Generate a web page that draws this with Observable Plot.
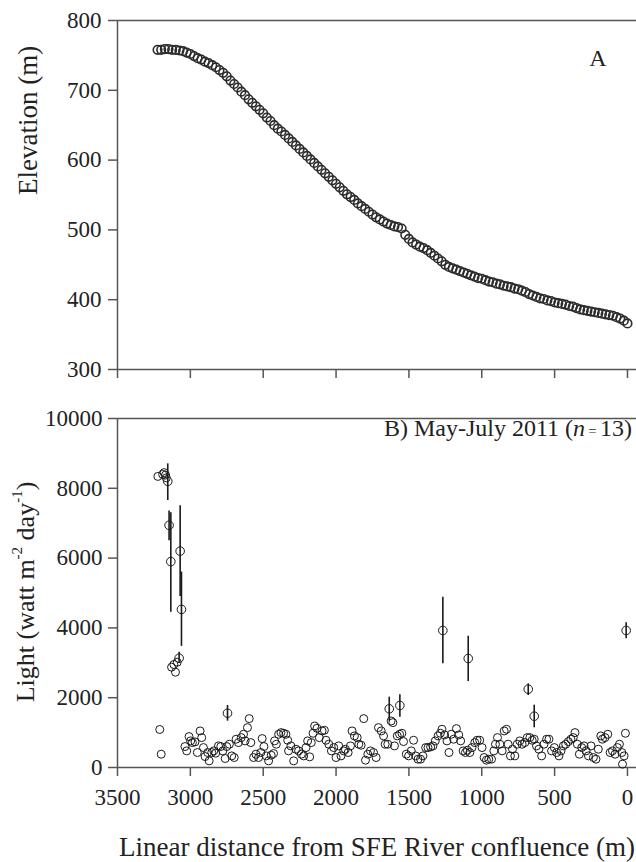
<!DOCTYPE html>
<html><head><meta charset="utf-8">
<script src="https://cdn.jsdelivr.net/npm/d3@7"></script>
<script src="https://cdn.jsdelivr.net/npm/@observablehq/plot@0.6"></script>
<style>
body{margin:0;background:#fff;}
#chart{width:636px;}
svg{display:block;}
</style></head><body><div id="chart"></div>
<script>
// ---- Panel A: elevation along the stream ----
const distA = [3225,3200,3175,3150,3125,3100,3075,3050,3025,3000,
2975,2950,2925,2900,2875,2850,2825,2800,2775,2750,
2725,2700,2675,2650,2625,2600,2575,2550,2525,2500,
2475,2450,2425,2400,2375,2350,2325,2300,2275,2250,
2225,2200,2175,2150,2125,2100,2075,2050,2025,2000,
1975,1950,1925,1900,1875,1850,1825,1800,1775,1750,
1725,1700,1675,1650,1625,1600,1575,1550,1525,1500,
1475,1450,1425,1400,1375,1350,1325,1300,1275,1250,
1225,1200,1175,1150,1125,1100,1075,1050,1025,1000,
975,950,925,900,875,850,825,800,775,750,
725,700,675,650,625,600,575,550,525,500,
475,450,425,400,375,350,325,300,275,250,
225,200,175,150,125,100,75,50,25,0];
const elevA = [758,758,759,759,758,758,757,756,754,752,
749,746,744,741,739,736,733,729,725,720,
714,709,704,698,693,687,682,677,672,667,
661,656,650,645,641,636,631,626,621,616,
611,606,601,596,591,586,581,576,571,566,
561,556,551,547,543,538,534,530,526,522,
518,515,512,509,507,505,504,502,493,487,
482,479,476,474,471,467,463,459,455,450,
447,445,443,441,439,437,435,433,431,430,
428,426,425,423,422,420,419,418,416,415,
413,411,408,406,404,402,401,399,398,396,
395,394,393,391,390,388,386,385,384,383,
382,381,380,379,378,377,375,373,370,366];

// ---- Panel B: light, single-point readings ----
const distB = [3223,3190,3180,3170,3165,3210,3200,3129,3113,3102,
3090,3037,3025,3009,2998,2986,2968,2952,2933,2922,
2910,2899,2881,2871,2853,2839,2826,2807,2791,2777,
2761,2750,2732,2716,2699,2686,2670,2651,2635,2624,
2608,2596,2585,2566,2550,2532,2516,2507,2495,2479,
2463,2445,2429,2422,2410,2394,2378,2360,2344,2332,
2326,2310,2291,2275,2257,2238,2222,2206,2195,2181,
2170,2158,2147,2131,2115,2096,2080,2069,2050,2032,
2016,2000,1982,1966,1947,1936,1917,1901,1890,1874,
1855,1844,1828,1810,1798,1782,1764,1743,1725,1709,
1690,1674,1663,1645,1622,1610,1599,1580,1564,1548,
1537,1518,1502,1484,1468,1454,1438,1420,1404,1385,
1369,1351,1335,1319,1300,1284,1273,1255,1239,1225,
1209,1193,1174,1158,1145,1128,1112,1099,1082,1067,
1048,1032,1014,998,984,968,952,933,917,906,
892,876,860,846,830,819,803,789,773,757,
739,723,704,688,670,654,640,624,608,589,
573,555,539,521,502,486,470,456,440,424,
406,388,372,360,344,330,314,298,284,268,
250,234,216,200,183,172,154,135,119,103,
85,69,55,39,23,14,34];
const lightB = [8340,8400,8450,8380,8300,1089,381,2874,2951,2731,
3017,600,476,886,762,714,733,429,1048,857,
571,314,429,190,429,476,410,619,600,476,
257,600,667,333,286,810,714,857,952,762,
1143,1400,714,286,381,286,429,829,600,333,
190,352,400,762,667,952,1000,981,952,781,
476,619,190,524,476,381,333,571,762,305,
714,981,1190,1124,857,1048,1067,781,667,476,
571,286,619,333,476,524,429,619,1048,905,
857,667,638,1400,210,381,476,429,286,1143,
1048,905,667,667,1333,1286,619,905,952,981,
743,381,333,476,781,333,238,238,333,571,
571,590,619,762,905,981,1095,933,762,429,
952,810,1114,933,762,476,429,495,429,571,
714,781,781,571,286,210,238,238,476,667,
857,667,476,1048,1095,667,333,524,333,667,
762,667,714,857,857,781,810,619,524,333,
667,810,810,476,571,429,333,476,619,667,
743,810,857,1000,667,381,571,619,476,333,
619,286,238,524,905,810,857,952,429,476,
381,571,667,429,333,981,95];

// ---- Panel B: readings with error bars ----
const barDist  = [3155,3146,3134,3070,3061,3077,2745,1635,1562,1267,1093,681,640,9];
const barLight = [8200,6940,5900,6200,4530,3132,1556,1681,1777,3926,3123,2244,1470,3926];
const barLow   = [7650,6500,4450,4900,3470,2980,1327,1327,1441,2971,2464,2063,1137,3688];
const barHigh  = [8700,7350,7300,7500,5600,3300,1777,2015,2083,4880,3762,2397,1785,4146];

const xTicks  = [3500,3000,2500,2000,1500,1000,500,0];
const yTicksA = [300,400,500,600,700,800];
const yTicksB = [0,2000,4000,6000,8000,10000];

const FONT = "'Liberation Serif','Times New Roman',serif";
const INK = "#222";
const AX = "#555";
const xDomain = [3500, -62];
const fmt = d3.format("d");

const dataA = distA.map((d, i) => ({d, e: elevA[i]}));
const dataB = distB.map((d, i) => ({d, v: lightB[i]}));
const bars = barDist.map((d, i) => ({d, v: barLight[i], lo: barLow[i], hi: barHigh[i]}));

const plotA = Plot.plot({
  width: 636, height: 390,
  marginLeft: 117, marginRight: 0, marginTop: 20, marginBottom: 21,
  style: {fontFamily: FONT, fontSize: "23px", color: INK, background: "white", overflow: "visible"},
  x: {domain: xDomain},
  y: {domain: [300, 800]},
  marks: [
    Plot.ruleY([800], {stroke: AX, strokeWidth: 1.5}),
    Plot.ruleY([300], {stroke: AX, strokeWidth: 1.5}),
    Plot.ruleX([3500], {stroke: AX, strokeWidth: 1.5}),
    Plot.axisY({ticks: yTicksA, tickFormat: fmt, tickSize: 9, tickPadding: 7, label: null, stroke: AX, strokeWidth: 1.5}),
    Plot.axisX({ticks: xTicks, tickSize: 9, tickFormat: () => "", label: null, stroke: AX, strokeWidth: 1.5}),
    Plot.dot(dataA, {x: "d", y: "e", r: 4.3, stroke: "#2b2b2b", strokeWidth: 1.6, fill: "none"}),
    Plot.text(["A"], {frameAnchor: "top-right", dx: -30, dy: 28, fontSize: 24, fill: INK}),
    Plot.text(["Elevation (m)"], {frameAnchor: "left", rotate: -90, dx: -89, fontSize: 27, fill: INK})
  ]
});

const plotB = Plot.plot({
  width: 636, height: 472,
  marginLeft: 117, marginRight: 0, marginTop: 28, marginBottom: 95,
  style: {fontFamily: FONT, fontSize: "23px", color: INK, background: "white", overflow: "visible"},
  x: {domain: xDomain},
  y: {domain: [0, 10000]},
  marks: [
    Plot.ruleY([10000], {stroke: AX, strokeWidth: 1.5}),
    Plot.ruleY([0], {stroke: AX, strokeWidth: 1.5}),
    Plot.ruleX([3500], {stroke: AX, strokeWidth: 1.5}),
    Plot.axisY({ticks: yTicksB, tickFormat: fmt, tickSize: 9, tickPadding: 6, label: null, stroke: AX, strokeWidth: 1.5}),
    Plot.axisX({ticks: xTicks, tickFormat: fmt, tickSize: 9, tickPadding: 12, label: null, stroke: AX, strokeWidth: 1.5}),
    Plot.ruleX(bars, {x: "d", y1: "lo", y2: "hi", stroke: "#1a1a1a", strokeWidth: 1.6}),
    Plot.dot(dataB, {x: "d", y: "v", r: 4, stroke: "#1a1a1a", strokeWidth: 1, fill: "none"}),
    Plot.dot(bars, {x: "d", y: "v", r: 4.3, stroke: "#1a1a1a", strokeWidth: 1, fill: "none"})
  ]
});

// rich-text labels for panel B
const svgB = d3.select(plotB.tagName === "svg" ? plotB : plotB.querySelector("svg"));
const lab = svgB.append("text")
  .attr("x", 632).attr("y", 46).attr("text-anchor", "end")
  .attr("font-family", FONT).attr("font-size", 24).attr("fill", INK);
lab.append("tspan").text("B) May-July 2011 (");
lab.append("tspan").attr("font-style", "italic").text("n");
lab.append("tspan").attr("font-size", 14).text(" = ");
lab.append("tspan").text("13)");

const yt = svgB.append("text")
  .attr("transform", "translate(28,202) rotate(-90)")
  .attr("text-anchor", "middle").attr("dominant-baseline", "middle")
  .attr("font-family", FONT).attr("font-size", 26).attr("fill", INK);
yt.append("tspan").text("Light (watt m");
yt.append("tspan").attr("font-size", 15).attr("dy", -9).text("-2");
yt.append("tspan").attr("dy", 9).text(" day");
yt.append("tspan").attr("font-size", 15).attr("dy", -9).text("-1");
yt.append("tspan").attr("dy", 9).text(")");

svgB.append("text")
  .attr("x", 377).attr("y", 460).attr("text-anchor", "middle").attr("dominant-baseline", "middle")
  .attr("font-family", FONT).attr("font-size", 27).attr("fill", INK)
  .text("Linear distance from SFE River confluence (m)");

document.getElementById("chart").append(plotA, plotB);
</script></body></html>
